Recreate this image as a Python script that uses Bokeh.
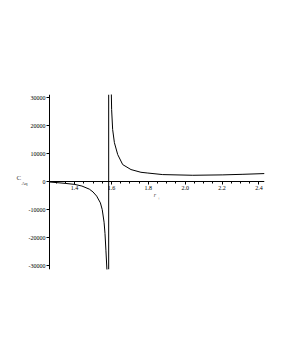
from bokeh.plotting import figure
from bokeh.models import Range1d, FixedTicker, Span, Label
from bokeh.embed import file_html
from bokeh.resources import INLINE

# Data
left_x = [1.264, 1.300, 1.350, 1.400, 1.440, 1.480, 1.500, 1.520, 1.540, 1.550, 1.560, 1.565, 1.570, 1.5755, 1.578]
left_y = [-150, -350, -650, -1000, -1600, -2700, -3700, -5200, -7600, -10000, -14500, -18500, -24500, -31500, -40000]
right_x = [1.597, 1.601, 1.6065, 1.616, 1.634, 1.661, 1.706, 1.760, 1.797, 1.878, 2.041, 2.204, 2.313, 2.43]
right_y = [40000, 25700, 18600, 13900, 9640, 6070, 4290, 3320, 3050, 2500, 2250, 2390, 2600, 2860]
asymptote_x = 1.585
x_min, x_max = 1.264, 2.43
y_min, y_max = -31400, 31100

x_ticks = [1.4, 1.6, 1.8, 2.0, 2.2, 2.4]
x_tick_labels = ["1.4", "1.6", "1.8", "2.0", "2.2", "2.4"]
x_minor = [1.3, 1.35, 1.45, 1.5, 1.55, 1.65, 1.7, 1.75, 1.85, 1.9, 1.95, 2.05, 2.1, 2.15, 2.25, 2.3, 2.35]
y_ticks = [-30000, -20000, -10000, 0, 10000, 20000, 30000]
y_tick_labels = ["-30000", "-20000", "-10000", "0", "10000", "20000", "30000"]

FONT = "Liberation Serif"

p = figure(width=265, height=315, output_backend="svg", toolbar_location=None,
           x_range=Range1d(1.0634, x_max), y_range=Range1d(y_min, y_max),
           frame_width=252, frame_height=175,
           min_border_left=12, min_border_top=94, min_border_right=1, min_border_bottom=40)
p.outline_line_color = None
p.grid.visible = False
p.background_fill_color = "white"

p.line(left_x, left_y, line_color="black", line_width=1)
p.line(right_x, right_y, line_color="black", line_width=1)
p.add_layout(Span(location=asymptote_x, dimension="height", line_color="black", line_width=1))

# x axis crossing at y = 0
xa = p.xaxis[0]
xa.fixed_location = 0
xa.bounds = (x_min, x_max)
xa.ticker = FixedTicker(ticks=x_ticks, minor_ticks=x_minor)
xa.major_label_overrides = {t: l for t, l in zip(x_ticks, x_tick_labels)}
xa.major_label_text_font = FONT
xa.major_label_text_font_size = "6px"
xa.major_label_text_color = "black"
xa.major_label_standoff = 1
xa.major_tick_in = 0
xa.major_tick_out = 3
xa.minor_tick_in = 0
xa.minor_tick_out = 2
xa.axis_line_color = "black"
xa.major_tick_line_color = "black"
xa.minor_tick_line_color = "black"

# y axis at the left end of the x range
ya = p.yaxis[0]
ya.fixed_location = x_min
ya.ticker = FixedTicker(ticks=y_ticks)
ya.major_label_overrides = {t: l for t, l in zip(y_ticks, y_tick_labels)}
ya.major_label_text_font = FONT
ya.major_label_text_font_size = "6px"
ya.major_label_text_color = "black"
ya.major_label_standoff = 1
ya.major_tick_in = 0
ya.major_tick_out = 3
ya.axis_line_color = "black"
ya.major_tick_line_color = "black"

# axis titles
p.add_layout(Label(x=1.085, y=1430, text="C",
                   text_font=FONT, text_font_size="7px", text_baseline="middle", text_align="left"))
p.add_layout(Label(x=1.112, y=-540, text="Aq",
                   text_font=FONT, text_font_size="5px", text_baseline="middle", text_align="left"))
p.add_layout(Label(x=1.836, y=-4820, text="r", text_font=FONT, text_font_style="italic",
                   text_font_size="6px", text_baseline="middle", text_align="center"))
p.add_layout(Label(x=1.858, y=-5890, text="+", text_font=FONT,
                   text_font_size="5px", text_baseline="middle", text_align="center"))

open("out.html", "w").write(file_html(p, INLINE))
